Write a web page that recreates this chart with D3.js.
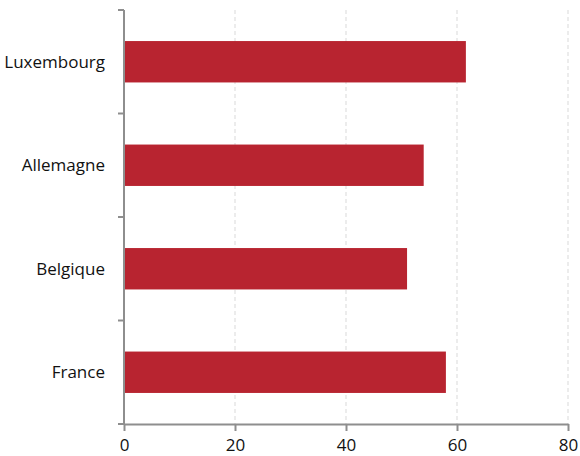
<!DOCTYPE html>
<html>
<head>
<meta charset="utf-8">
<script src="https://cdn.jsdelivr.net/npm/d3@7"></script>
<style>
  html, body { margin: 0; padding: 0; background: #fff; }
  svg { display: block; }
  text { font-family: "Open Sans", "DejaVu Sans", sans-serif; fill: #111; }
</style>
</head>
<body>
<svg id="chart" width="580" height="456"></svg>
<script>
// Countries, top to bottom
const categories = ["Luxembourg", "Allemagne", "Belgique", "France"];
// Values per country
const values = [61.6, 54.0, 51.0, 58.0];
// X axis tick values
const xTicks = [0, 20, 40, 60, 80];

const svg = d3.select("#chart");
const margin = { top: 10, right: 12, bottom: 32, left: 124 };
const width = 580 - margin.left - margin.right;
const height = 456 - margin.top - margin.bottom;

const g = svg.append("g").attr("transform", `translate(${margin.left},${margin.top})`);

const x = d3.scaleLinear().domain([0, 80]).range([0, width]);
const y = d3.scaleBand().domain(categories).range([0, height]).padding(0);

// Vertical dashed grid lines
g.append("g")
  .selectAll("line")
  .data(xTicks.filter(t => t > 0))
  .join("line")
  .attr("x1", d => x(d)).attr("x2", d => x(d))
  .attr("y1", 0).attr("y2", height)
  .attr("stroke", "#d9d9d9")
  .attr("stroke-width", 1)
  .attr("stroke-dasharray", "4,3");

// Bars
const barFrac = 0.4;
g.append("g")
  .selectAll("rect")
  .data(categories.map((c, i) => ({ c, v: values[i] })))
  .join("rect")
  .attr("x", x(0))
  .attr("y", d => y(d.c) + y.step() * (1 - barFrac) / 2)
  .attr("width", d => x(d.v) - x(0))
  .attr("height", y.step() * barFrac)
  .attr("fill", "#b82430");

// Y axis: line with ticks at band boundaries, labels centered on bands
const yAxisG = g.append("g");
yAxisG.append("line")
  .attr("x1", 0).attr("x2", 0).attr("y1", 0).attr("y2", height)
  .attr("stroke", "#8e8e8e").attr("stroke-width", 2);
const boundaries = categories.map(c => y(c)).concat([height]);
yAxisG.selectAll("line.tick")
  .data(boundaries)
  .join("line")
  .attr("class", "tick")
  .attr("x1", -6).attr("x2", 0)
  .attr("y1", d => d).attr("y2", d => d)
  .attr("stroke", "#8e8e8e").attr("stroke-width", 2);
yAxisG.selectAll("text")
  .data(categories)
  .join("text")
  .attr("x", -19)
  .attr("y", d => y(d) + y.bandwidth() / 2)
  .attr("dy", "0.35em")
  .attr("text-anchor", "end")
  .style("font-size", "17px")
  .text(d => d);

// X axis
const xAxis = d3.axisBottom(x).tickValues(xTicks).tickSize(7).tickSizeOuter(0).tickPadding(8);
const xg = g.append("g").attr("transform", `translate(0,${height})`).call(xAxis);
xg.select(".domain").attr("stroke", "#8e8e8e").attr("stroke-width", 2);
xg.selectAll(".tick line").attr("stroke", "#8e8e8e").attr("stroke-width", 2);
xg.selectAll(".tick text")
  .style("font-family", "\"Open Sans\", \"DejaVu Sans\", sans-serif")
  .style("font-size", "17px")
  .attr("fill", "#111");
</script>
</body>
</html>
